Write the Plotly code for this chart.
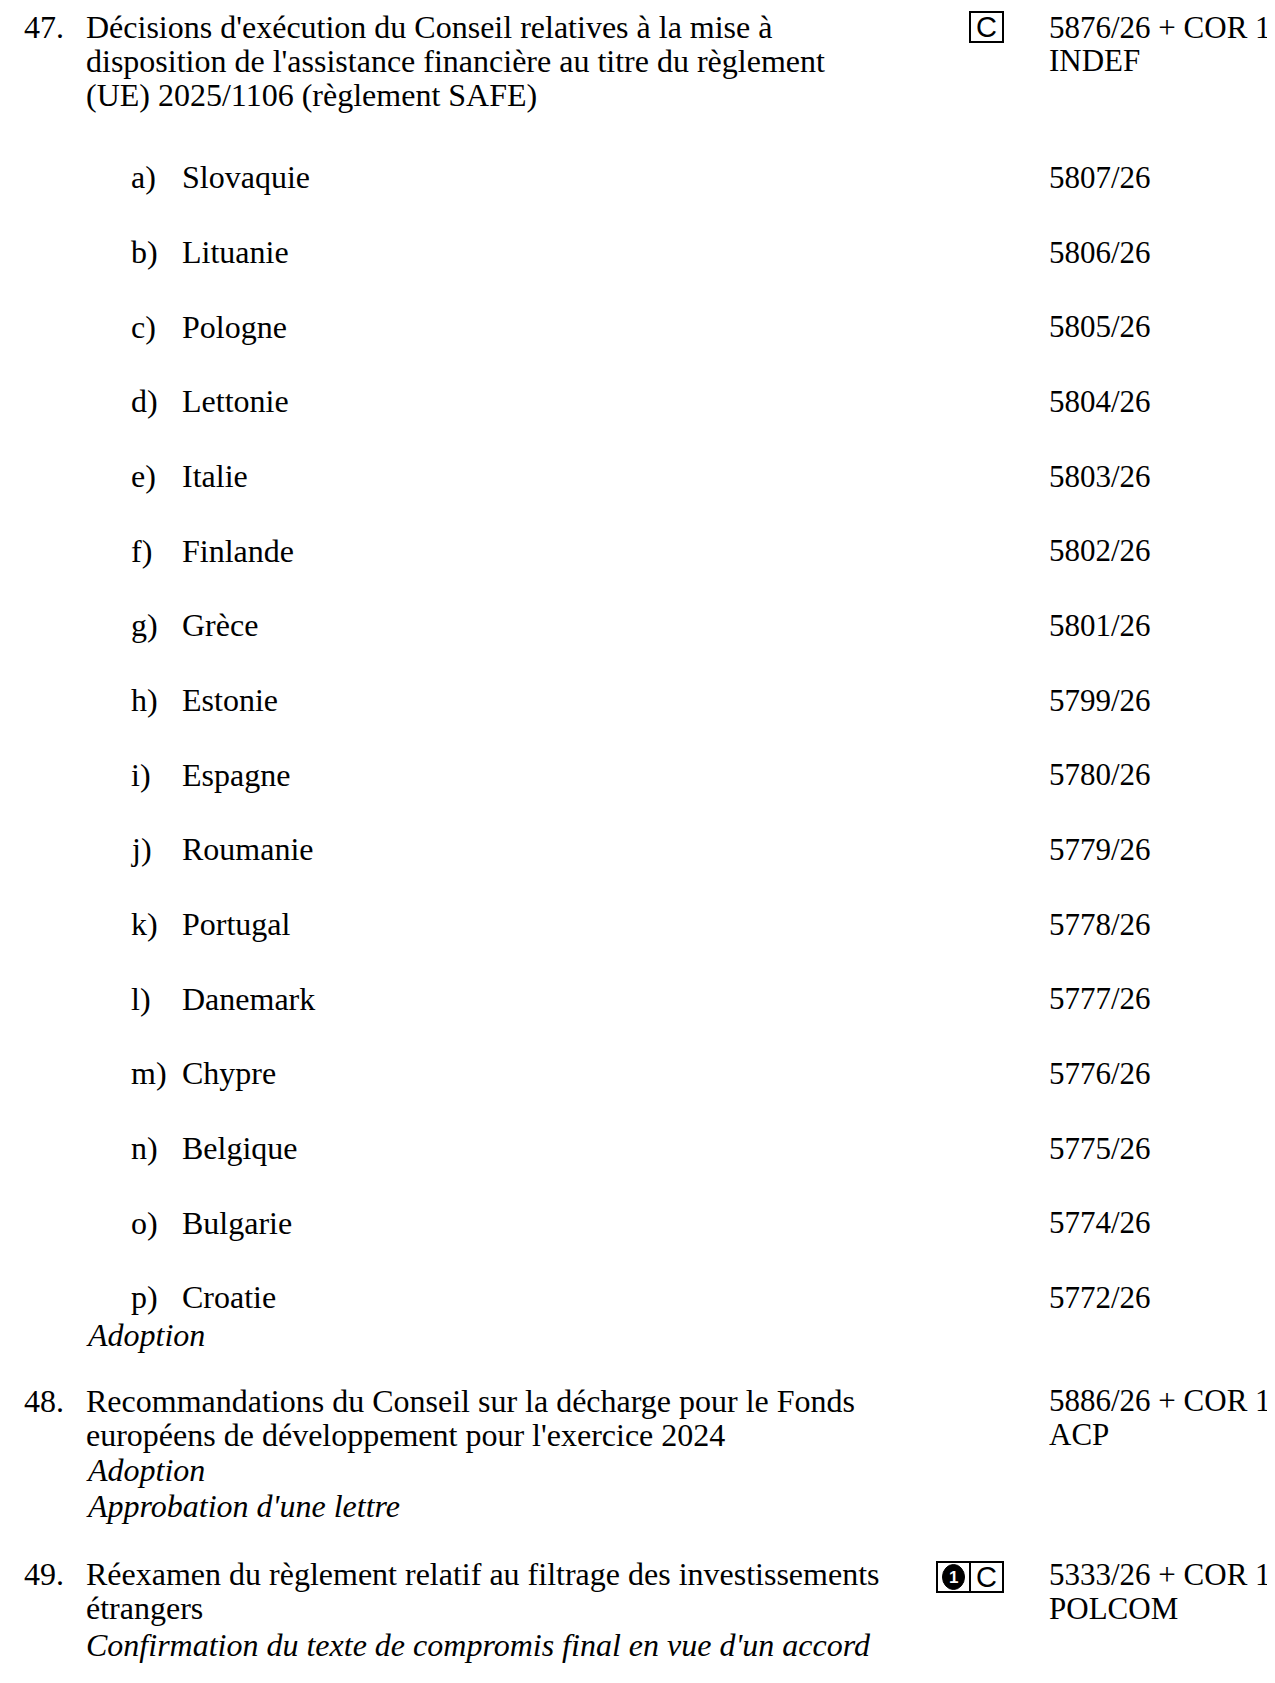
import plotly.graph_objects as go

W, H = 1275, 1683
FONT = "Liberation Serif"
FS = 32       # body text
FS_REF = 31   # right-hand reference column

# ---- data ----
item_numbers = ["47.", "48.", "49."]
item47_title = ["Décisions d'exécution du Conseil relatives à la mise à",
                "disposition de l'assistance financière au titre du règlement",
                "(UE) 2025/1106 (règlement SAFE)"]
item47_refs = ["5876/26 + COR 1", "INDEF"]
sub_letters = ["a)", "b)", "c)", "d)", "e)", "f)", "g)", "h)",
               "i)", "j)", "k)", "l)", "m)", "n)", "o)", "p)"]
sub_countries = ["Slovaquie", "Lituanie", "Pologne", "Lettonie", "Italie",
                 "Finlande", "Grèce", "Estonie", "Espagne", "Roumanie",
                 "Portugal", "Danemark", "Chypre", "Belgique", "Bulgarie", "Croatie"]
sub_docs = ["5807/26", "5806/26", "5805/26", "5804/26", "5803/26", "5802/26",
            "5801/26", "5799/26", "5780/26", "5779/26", "5778/26", "5777/26",
            "5776/26", "5775/26", "5774/26", "5772/26"]
item47_action = ["Adoption"]
item48_title = ["Recommandations du Conseil sur la décharge pour le Fonds",
                "européens de développement pour l'exercice 2024"]
item48_action = ["Adoption", "Approbation d'une lettre"]
item48_refs = ["5886/26 + COR 1", "ACP"]
item49_title = ["Réexamen du règlement relatif au filtrage des investissements",
                "étrangers"]
item49_action = ["Confirmation du texte de compromis final en vue d'un accord"]
item49_refs = ["5333/26 + COR 1", "POLCOM"]

# ---- layout positions (line centres, px) ----
X_NUM, X_TXT, X_LET, X_SUB, X_REF = 15, 77, 122, 173, 1040
Y47 = [19, 52.8, 86.6]
Y_SUB0, SUB_STEP = 169.4, 74.67
Y47_ACT = 1326.5
Y48 = [1392.8, 1426.6, 1461.5, 1497.5]
Y49 = [1566, 1600, 1637]

ann = []


def txt(x, y, s, italic=False, size=FS, color="black", anchor="left", family=FONT):
    if italic:
        s = "<i>" + s + "</i>"
    ann.append(dict(x=x, y=y, xref="x", yref="y", text=s,
                    showarrow=False, xanchor=anchor, yanchor="middle",
                    font=dict(family=family, size=size, color=color),
                    borderpad=0))


# item 47
txt(X_NUM, Y47[0], item_numbers[0])
for y, s in zip(Y47, item47_title):
    txt(X_TXT, y, s)
for y, s in zip(Y47, item47_refs):
    txt(X_REF, y, s, size=FS_REF)
for i, (l, c, d) in enumerate(zip(sub_letters, sub_countries, sub_docs)):
    y = Y_SUB0 + i * SUB_STEP
    txt(X_LET, y, l)
    txt(X_SUB, y, c)
    txt(X_REF, y, d, size=FS_REF)
txt(X_TXT, Y47_ACT, item47_action[0], italic=True)

# item 48
txt(X_NUM, Y48[0], item_numbers[1])
for y, s in zip(Y48[:2], item48_title):
    txt(X_TXT, y, s)
for y, s in zip(Y48[2:], item48_action):
    txt(X_TXT, y, s, italic=True)
for y, s in zip(Y48, item48_refs):
    txt(X_REF, y, s, size=FS_REF)

# item 49
txt(X_NUM, Y49[0], item_numbers[2])
for y, s in zip(Y49[:2], item49_title):
    txt(X_TXT, y, s)
txt(X_TXT, Y49[2], item49_action[0], italic=True)
for y, s in zip(Y49, item49_refs):
    txt(X_REF, y, s, size=FS_REF)

# ---- icons ----
shapes = []
BOX_H = 30


def box(x0, x1, ytop):
    shapes.append(dict(type="rect", xref="x", yref="y", x0=x0, x1=x1,
                       y0=ytop, y1=ytop + BOX_H,
                       line=dict(color="black", width=2), fillcolor="white"))


def c_icon(x0, x1, ytop):
    box(x0, x1, ytop)
    ann.append(dict(x=(x0 + x1) / 2, y=ytop + BOX_H / 2, xref="x", yref="y",
                    text="C", showarrow=False, xanchor="center", yanchor="middle",
                    font=dict(family="Liberation Sans", size=29, color="black")))


def one_icon(x0, x1, ytop):
    box(x0, x1, ytop)
    cx, cy = (x0 + x1) / 2, ytop + BOX_H / 2
    shapes.append(dict(type="circle", xref="x", yref="y", x0=cx - 11, x1=cx + 11,
                       y0=cy - 12.5, y1=cy + 12.5, fillcolor="black",
                       line=dict(color="black", width=1)))
    ann.append(dict(x=cx, y=cy, xref="x", yref="y", text="<b>1</b>",
                    showarrow=False, xanchor="center", yanchor="middle",
                    font=dict(family="Liberation Sans", size=17, color="white")))


c_icon(962, 995, 4)
one_icon(929, 962, Y49[0] - 12)
c_icon(962, 995, Y49[0] - 12)

fig = go.Figure()
fig.update_layout(
    width=W, height=H, margin=dict(l=0, r=0, t=0, b=0),
    paper_bgcolor="white", plot_bgcolor="white",
    xaxis=dict(range=[0, W], visible=False, fixedrange=True),
    yaxis=dict(range=[H, 0], visible=False, fixedrange=True),
    annotations=ann, shapes=shapes, showlegend=False,
)
fig.write_html("out.html")
